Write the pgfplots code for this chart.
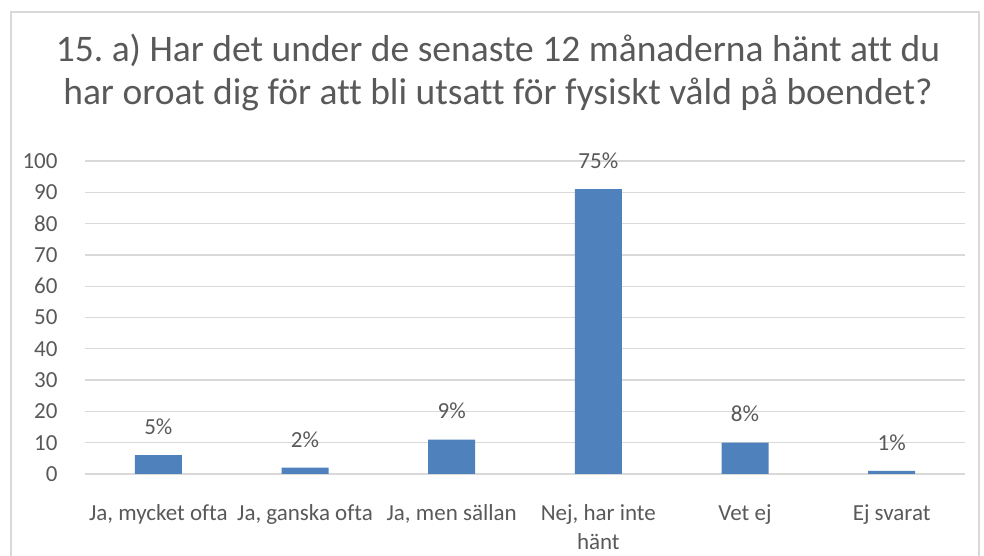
\documentclass[border=0pt]{standalone}
\usepackage{pgfplots}
\pgfplotsset{compat=1.18}
\usepackage{fontspec}
\setmainfont{Carlito}[Ligatures=NoCommon]
\definecolor{barblue}{RGB}{79,129,189}
\definecolor{txtgray}{RGB}{89,89,89}
\definecolor{gridgray}{RGB}{217,217,217}
\begin{document}
\frenchspacing
\begin{tikzpicture}[x=1bp,y=1bp]
\useasboundingbox (0,0) rectangle (984,556);
\begin{scope}
\clip (0,0) rectangle (984,556);
\draw[gridgray, line width=1.5bp] (11,-20) rectangle (979,544);
\end{scope}
\node[text=txtgray, font=\fontsize{37.5bp}{44bp}\selectfont, anchor=base] at (498,494)
  {15. a) Har det under de senaste 12 månaderna hänt att du};
\node[text=txtgray, font=\fontsize{37.5bp}{44bp}\selectfont, anchor=base] at (498,451)
  {har oroat dig för att bli utsatt för fysiskt våld på boendet?};
\begin{axis}[
  at={(85bp,82bp)}, anchor=south west, scale only axis,
  width=880bp, height=313bp,
  xmin=-0.5, xmax=5.5, ymin=0, ymax=100,
  ytick={0,10,...,100},
  xtick={0,1,2,3,4,5},
  xticklabels={{Ja, mycket ofta},{Ja, ganska ofta},{Ja, men sällan},{Nej, har inte\\hänt},{Vet ej},{Ej svarat}},
  xticklabel style={align=center, text=txtgray, font=\fontsize{23bp}{29bp}\selectfont, anchor=north, yshift=-27bp},
  yticklabel style={text=txtgray, font=\fontsize{23bp}{27bp}\selectfont, anchor=east, xshift=-24bp},
  /pgf/number format/assume math mode=true,
  ymajorgrids, grid style={gridgray, line width=1.3bp},
  axis line style={draw=none},
  major tick length=0pt,
  ybar, bar width=47bp,
  nodes near coords,
  point meta=explicit symbolic,
  every node near coord/.append style={text=txtgray, font=\fontsize{23bp}{27bp}\selectfont, yshift=17bp},
]
\addplot[fill=barblue, draw=none] table[meta=lab] {
x y lab
0 6 5\%
1 2 2\%
2 11 9\%
3 91 75\%
4 10 8\%
5 1 1\%
};
\end{axis}
\end{tikzpicture}
\end{document}
